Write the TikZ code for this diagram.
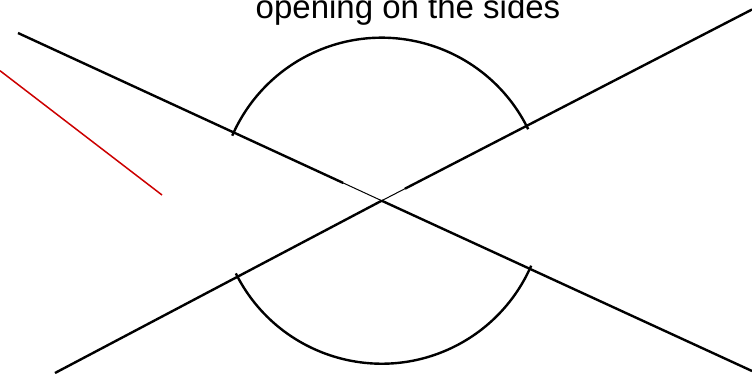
\documentclass[tikz,border=0pt]{standalone}
\usepackage{fontspec}
\setmainfont{Liberation Sans}
\usetikzlibrary{calc}
\definecolor{redline}{RGB}{204,0,0}
\tikzset{
  thickline/.style={line width=2.4pt, black},
  thinline/.style={line width=1pt, black},
  arcline/.style={line width=2.4pt, black},
  redstroke/.style={line width=1.5pt, redline},
  title/.style={font=\fontsize{33}{38}\selectfont, anchor=base, inner sep=0pt}
}
\begin{document}
\begin{tikzpicture}[x=1pt,y=1pt]
\useasboundingbox (0,0) rectangle (752,373);
\coordinate (O) at (381.7,172.3);
\coordinate (A1) at (18,340);
\coordinate (A2) at (752,2);
\coordinate (B1) at (55,0);
\coordinate (B2) at (752,363.5);
\coordinate (P) at ($(O)!0.106!(A1)$);
\coordinate (Q) at ($(O)!0.063!(B2)$);
\coordinate (R1) at (0,302.3);
\coordinate (R2) at (162,178);
\node[title] (t) at (408,354) {opening on the sides};
% line A
\draw[thickline] (A1) -- (P);
\draw[thinline] (P) -- (O);
\draw[thickline] (O) -- (A2);
% line B
\draw[thickline] (B1) -- (O);
\draw[thinline] (O) -- (Q);
\draw[thickline] (Q) -- (B2);
% arcs
\draw[arcline] ([shift={(26:163)}]O) arc[start angle=26, end angle=156.5, radius=163];
\draw[arcline] ([shift={(206.5:163)}]O) arc[start angle=206.5, end angle=336.5, radius=163];
% red line
\draw[redstroke] (R1) -- (R2);
\end{tikzpicture}
\end{document}
